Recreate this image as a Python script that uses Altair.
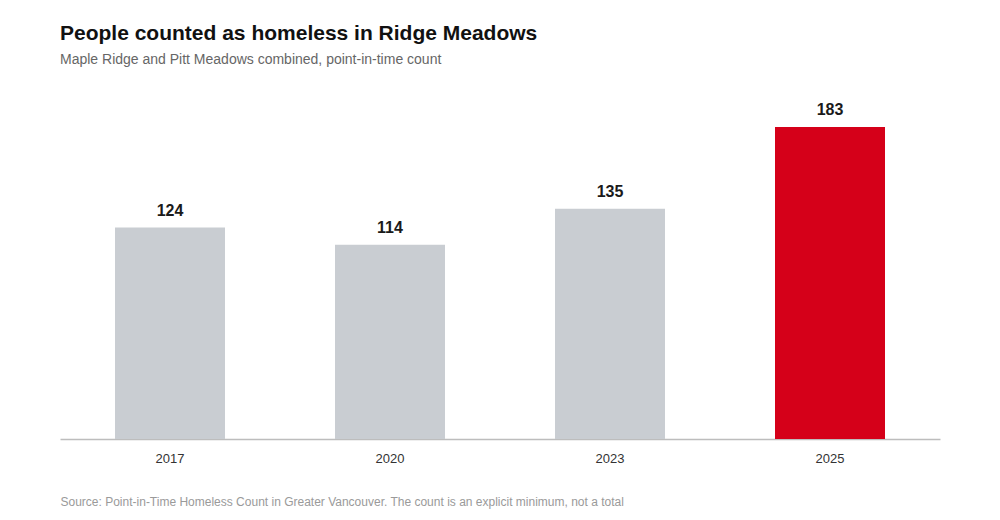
import altair as alt
import pandas as pd

years = ["2017", "2020", "2023", "2025"]
counts = [124, 114, 135, 183]
highlight = ["no", "no", "no", "yes"]

df = pd.DataFrame({"year": years, "count": counts, "hl": highlight})

FONT = "Liberation Sans"

base = alt.Chart(df).encode(
    x=alt.X(
        "year:N",
        sort=years,
        scale=alt.Scale(paddingInner=0.5, paddingOuter=0.25),
        axis=alt.Axis(
            title="Source: Point-in-Time Homeless Count in Greater Vancouver. The count is an explicit minimum, not a total",
            titleAnchor="start",
            titleFont=FONT,
            titleFontSize=12,
            titleFontWeight="normal",
            titleColor="#9a9a9a",
            titlePadding=31,
            labelAngle=0,
            labelFont=FONT,
            labelFontSize=13,
            labelColor="#333333",
            labelPadding=13,
            ticks=False,
            domainColor="#bdbdbd",
            domainWidth=1.5,
        ),
    ),
    y=alt.Y("count:Q", scale=alt.Scale(domain=[0, 200]), axis=None),
)

bars = base.mark_bar().encode(
    color=alt.Color(
        "hl:N",
        scale=alt.Scale(domain=["no", "yes"], range=["#c9cdd2", "#d50019"]),
        legend=None,
    )
)

labels = base.mark_text(
    baseline="bottom", dy=-9, font=FONT, fontSize=16, fontWeight="bold", color="#1a1a1a"
).encode(text="count:Q")

chart = (
    (bars + labels)
    .properties(
        width=880,
        height=341,
        background="white",
        autosize=alt.AutoSizeParams(type="none"),
        padding={"left": 52, "top": 90, "right": 52, "bottom": 75},
        title=alt.TitleParams(
            text="People counted as homeless in Ridge Meadows",
            subtitle="Maple Ridge and Pitt Meadows combined, point-in-time count",
            anchor="start",
            font=FONT,
            fontSize=21,
            fontWeight="bold",
            color="#111111",
            subtitleFont=FONT,
            subtitleFontSize=14,
            subtitleColor="#666666",
            subtitlePadding=9,
            offset=31,
        ),
    )
    .configure_view(strokeWidth=0)
)

chart.save("out.html", embed_options={"renderer": "svg", "actions": False})
